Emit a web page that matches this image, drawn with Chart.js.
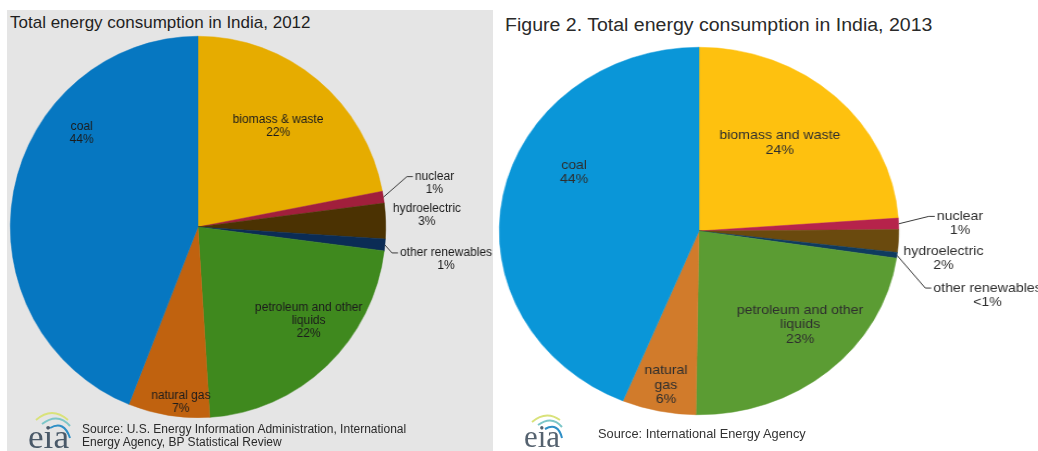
<!DOCTYPE html>
<html>
<head>
<meta charset="utf-8">
<script src="https://cdn.jsdelivr.net/npm/chart.js@4.4.1/dist/chart.umd.min.js"></script>
<style>
  html, body { margin: 0; padding: 0; }
  body { width: 1038px; height: 451px; position: relative; overflow: hidden; background: #ffffff; font-family: "Liberation Sans", Arial, sans-serif; }
  .abs { position: absolute; }
  .title { white-space: nowrap; color: #1f1f1f; }
  .src { white-space: nowrap; color: #2a2a2a; }
  .wrap { position: absolute; left: 0; top: 0; width: 1038px; height: 451px; }
</style>
</head>
<body>
<div class="abs" style="left:7px;top:10px;width:486px;height:441px;background:#e5e5e5;"></div>

<div class="abs title" style="left:10px;top:13.5px;font-size:17px;line-height:17px;">Total energy consumption in India, 2012</div>
<div class="abs title" style="left:505px;top:16px;font-size:18px;line-height:18px;color:#2a2a2a;transform-origin:0 0;transform:scaleX(1.085);">Figure 2. Total energy consumption in India, 2013</div>

<div class="wrap" id="wrapL"><canvas id="c2012" width="1038" height="451"></canvas></div>
<div class="wrap" id="wrapR"><canvas id="c2013" width="1038" height="451"></canvas></div>

<div class="abs src" style="left:82px;top:422.5px;font-size:12px;line-height:13px;">Source: U.S. Energy Information Administration, International<br>Energy Agency, BP Statistical Review</div>
<div class="abs src" style="left:598px;top:426.5px;font-size:12.8px;line-height:13px;color:#333;">Source: International Energy Agency</div>

<svg class="abs" style="left:22px;top:408px;" width="56" height="43">
  <path d="M14 12 Q30 -2 46 12" fill="none" stroke="#d9e27a" stroke-width="2"/>
  <path d="M20 16 Q36 4 48 18" fill="none" stroke="#7cc6c8" stroke-width="2"/>
  <path d="M28 20 Q42 12 48 30" fill="none" stroke="#2e8fc6" stroke-width="2"/>
  <text x="6" y="40" font-family="Liberation Serif, serif" font-size="33" fill="#4a5968" textLength="41" lengthAdjust="spacingAndGlyphs">eia</text>
</svg>
<svg class="abs" style="left:518px;top:410px;" width="52" height="41">
  <path d="M14 12 Q28 0 42 10" fill="none" stroke="#d9e27a" stroke-width="2"/>
  <path d="M20 15 Q34 5 44 17" fill="none" stroke="#7cc6c8" stroke-width="2"/>
  <path d="M27 19 Q40 12 44 28" fill="none" stroke="#2e8fc6" stroke-width="2"/>
  <text x="6" y="37" font-family="Liberation Serif, serif" font-size="31" fill="#55626f" textLength="36" lengthAdjust="spacingAndGlyphs">eia</text>
</svg>

<script>
// ---------- DATA ----------
const categories2012 = ["biomass & waste", "nuclear", "hydroelectric", "other renewables", "petroleum and other liquids", "natural gas", "coal"];
const values2012 = [22, 1, 3, 1, 22, 7, 44];
const pctLabels2012 = ["22%", "1%", "3%", "1%", "22%", "7%", "44%"];

const categories2013 = ["biomass and waste", "nuclear", "hydroelectric", "other renewables", "petroleum and other liquids", "natural gas", "coal"];
const values2013 = [24, 1, 2, 0.5, 23, 6, 44];
const pctLabels2013 = ["24%", "1%", "2%", "<1%", "23%", "6%", "44%"];

// ---------- STYLE / LAYOUT ----------
const colors2012 = ["#e6ac00", "#a11f3c", "#4b3202", "#0b2c55", "#3f891e", "#c0620f", "#0677c1"];
const colors2013 = ["#fec10f", "#b6234b", "#6a4a0e", "#0f3b5f", "#5b9c33", "#d17b2b", "#0a96d8"];

// label text line breaks (layout only)
const lines2012 = [["biomass & waste"], ["nuclear"], ["hydroelectric"], ["other renewables"], ["petroleum and other", "liquids"], ["natural gas"], ["coal"]];
const lines2013 = [["biomass and waste"], ["nuclear"], ["hydroelectric"], ["other renewables"], ["petroleum and other", "liquids"], ["natural", "gas"], ["coal"]];

// label centre offsets from pie centre, in units of radius (screen space)
const labelPos2012 = [[0.42, -0.53], [1.24, -0.23], [1.20, -0.06], [1.30, 0.17], [0.58, 0.49], [-0.09, 0.92], [-0.61, -0.49]];
const labelPos2013 = [[0.44, -0.48], [1.42, -0.04], [1.33, 0.15], [1.57, 0.35], [0.55, 0.51], [-0.18, 0.84], [-0.68, -0.32]];
const leaders2012 = [false, true, false, true, false, false, false];
const leaders2013 = [false, true, false, true, false, false, false];

const sliceLabels = {
  id: 'sliceLabels',
  afterDatasetsDraw(chart, args, o) {
    const ctx = chart.ctx;
    const meta = chart.getDatasetMeta(0);
    const sx = o.sx;          // horizontal stretch of the canvas
    const ts = o.textStretch; // desired horizontal stretch of text on screen
    ctx.save();
    ctx.font = o.font;
    ctx.textAlign = 'center';
    ctx.textBaseline = 'middle';
    meta.data.forEach((arc, i) => {
      const p = arc.getProps(['x', 'y', 'outerRadius', 'startAngle', 'endAngle'], true);
      const R = p.outerRadius;
      const lines = o.lines[i].concat([o.pct[i]]);
      const n = lines.length;
      const lcx = p.x + o.pos[i][0] * R / sx;
      const lcy = p.y + o.pos[i][1] * R;
      let maxW = 0;
      lines.forEach(l => { maxW = Math.max(maxW, ctx.measureText(l).width * ts); });
      ctx.fillStyle = o.color;
      lines.forEach((l, k) => {
        const yy = lcy + (k - (n - 1) / 2) * o.lineHeight;
        ctx.save();
        ctx.translate(lcx, yy);
        ctx.scale(ts / sx, 1);
        ctx.fillText(l, 0, 0);
        ctx.restore();
      });
      if (o.leaders[i]) {
        const mid = (p.startAngle + p.endAngle) / 2;
        const x0 = p.x + Math.cos(mid) * R;
        const y0 = p.y + Math.sin(mid) * R;
        const leftScreen = o.pos[i][0] * R - maxW / 2;
        const ey = lcy - (n - 1) / 2 * o.lineHeight;
        ctx.strokeStyle = o.leaderColor;
        ctx.lineWidth = 1;
        ctx.beginPath();
        ctx.moveTo(x0, y0);
        ctx.lineTo(p.x + (leftScreen - 8) / sx, ey);
        ctx.lineTo(p.x + (leftScreen - 2) / sx, ey);
        ctx.stroke();
      }
    });
    ctx.restore();
  }
};

function makePie(canvasId, wrapId, cfg) {
  const wrap = document.getElementById(wrapId);
  wrap.style.transformOrigin = cfg.cx + 'px ' + cfg.cy + 'px';
  wrap.style.transform = 'scaleX(' + cfg.sx + ')';
  return new Chart(document.getElementById(canvasId), {
    type: 'pie',
    data: {
      labels: cfg.labels,
      datasets: [{ data: cfg.values, backgroundColor: cfg.colors, borderColor: cfg.colors, borderWidth: 0.5 }]
    },
    options: {
      responsive: false,
      animation: false,
      devicePixelRatio: 1,
      layout: { padding: { left: cfg.cx - cfg.r, top: cfg.cy - cfg.r, right: 1038 - cfg.cx - cfg.r, bottom: 451 - cfg.cy - cfg.r } },
      plugins: {
        legend: { display: false },
        tooltip: { enabled: false },
        sliceLabels: {
          sx: cfg.sx, textStretch: cfg.textStretch, lines: cfg.lines, pct: cfg.pct, pos: cfg.pos, leaders: cfg.leaders,
          font: cfg.font, lineHeight: cfg.lineHeight, color: cfg.textColor, leaderColor: '#3a3a3a'
        }
      }
    },
    plugins: [sliceLabels]
  });
}

makePie('c2012', 'wrapL', {
  cx: 198, cy: 227, r: 191, sx: 0.984, textStretch: 1,
  labels: categories2012, values: values2012, colors: colors2012,
  lines: lines2012, pct: pctLabels2012, pos: labelPos2012, leaders: leaders2012,
  font: '12px "Liberation Sans", Arial, sans-serif', lineHeight: 13, textColor: '#1c1c1c'
});
makePie('c2013', 'wrapR', {
  cx: 699, cy: 231, r: 184, sx: 1.087, textStretch: 1.087,
  labels: categories2013, values: values2013, colors: colors2013,
  lines: lines2013, pct: pctLabels2013, pos: labelPos2013, leaders: leaders2013,
  font: '13px "Liberation Sans", Arial, sans-serif', lineHeight: 14.5, textColor: '#2e2e2e'
});
</script>
</body>
</html>
